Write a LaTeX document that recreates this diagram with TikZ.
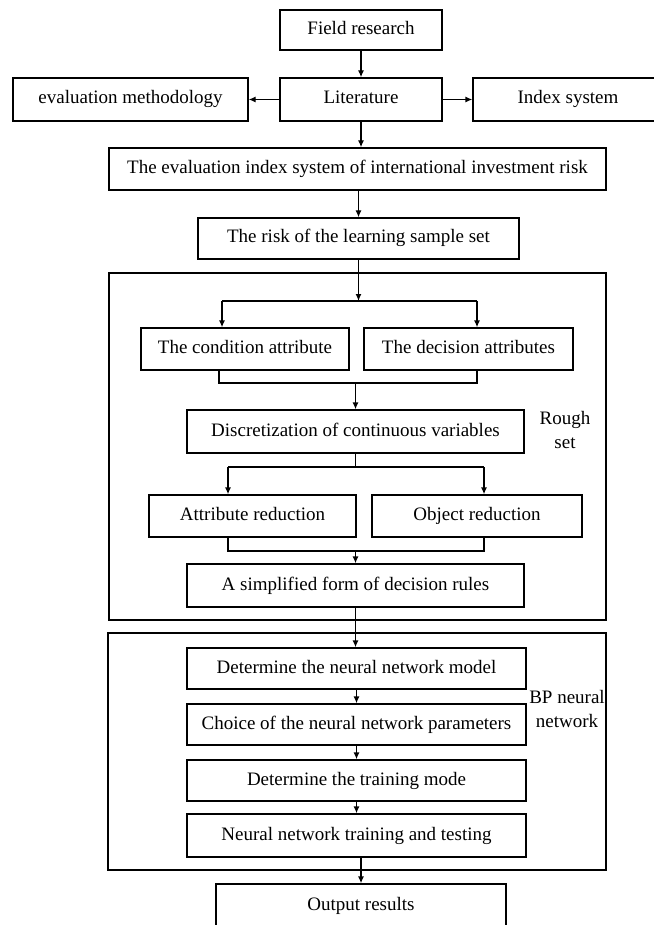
\documentclass[tikz,border=0pt]{standalone}
\usepackage{fontspec}
\setmainfont{Liberation Serif}
\usetikzlibrary{arrows.meta,calc}
\tikzset{
  every node/.style={font=\fontsize{19}{24}\selectfont},
  box/.style={draw, line width=1.3pt, inner sep=0pt, minimum height=42, align=center,
              text height=13pt, text depth=4pt},
  frm/.style={draw, line width=1.3pt, inner sep=0pt},
  lbl/.style={align=center, inner sep=0pt},
  ar/.style={-{Latex[length=7pt,width=6pt]}, line width=1.3pt},
  ln/.style={line width=1.3pt},
}

\begin{document}
\begin{tikzpicture}[x=1pt,y=-1pt]
\useasboundingbox (0,0) rectangle (653,925);

% ============ sources ========================================================
\node[box, minimum width=162, minimum height=40] (field) at (361,30) {Field research};
\node[box, minimum width=162, minimum height=43] (lit) at (361,99.5) {Literature};
\node[box, minimum width=235, minimum height=43] (meth) at (130.5,99.5) {evaluation methodology};
\node[box, minimum width=190, minimum height=43] (idx) at (568,99.5) {Index system};
\node[box, minimum width=497] (evidx) at (357.5,169) {The evaluation index system of international investment risk};
\node[box, minimum width=321, minimum height=41] (risk) at (358.5,238.5) {The risk of the learning sample set};

\draw[ar] (field.south) -- (lit.north);
\draw[ar] (lit.west) -- (meth.east);
\draw[ar] (lit.east) -- (idx.west);
\draw[ar] (lit.south) -- (lit.south |- evidx.north);
\draw[ar] (risk.north |- evidx.south) -- (risk.north);

% ============ rough set ======================================================
\node[frm, minimum width=497, minimum height=347] (rough) at (357.5,446.5) {};
\node[lbl] (roughlbl) at (565,430) {Rough\\set};
\node[box, minimum width=208] (cond) at (245,349) {The condition attribute};
\node[box, minimum width=209] (dec) at (468.5,349) {The decision attributes};
\node[box, minimum width=337, minimum height=43] (disc) at (355.5,431.5) {Discretization of continuous variables};
\node[box, minimum width=207] (attr) at (252.5,516) {Attribute reduction};
\node[box, minimum width=210] (obj) at (477,516) {Object reduction};
\node[box, minimum width=337, minimum height=43] (simp) at (355.5,585.5) {A simplified form of decision rules};

\coordinate (b1l) at (222,301);  \coordinate (b1r) at (477,301);
\coordinate (j1l) at (219,383);  \coordinate (j1r) at (477,383);
\coordinate (b2l) at (228,467);  \coordinate (b2r) at (484,467);
\coordinate (j2l) at (228,551);  \coordinate (j2r) at (484,551);

\draw[ar] (risk.south) -- (risk.south |- b1l);
\draw[ln] (b1l) -- (b1r);
\draw[ar] (b1l) -- (b1l |- cond.north);
\draw[ar] (b1r) -- (b1r |- dec.north);
\draw[ln] (j1l |- cond.south) -- (j1l) -- (j1r) -- (j1r |- dec.south);
\draw[ar] (disc.north |- j1l) -- (disc.north);
\draw[ln] (disc.south) -- (disc.south |- b2l);
\draw[ln] (b2l) -- (b2r);
\draw[ar] (b2l) -- (b2l |- attr.north);
\draw[ar] (b2r) -- (b2r |- obj.north);
\draw[ln] (j2l |- attr.south) -- (j2l) -- (j2r) -- (j2r |- obj.south);
\draw[ar] (simp.north |- j2l) -- (simp.north);

% ============ BP neural network ==============================================
\node[frm, minimum width=498, minimum height=237] (bp) at (357,751.5) {};
\node[lbl] (bplbl) at (567,708.5) {BP neural\\network};
\node[box, minimum width=339, minimum height=41] (detm) at (356.5,668.5) {Determine the neural network model};
\node[box, minimum width=339, minimum height=41] (choice) at (356.5,724.5) {Choice of the neural network parameters};
\node[box, minimum width=339, minimum height=41] (train) at (356.5,780.5) {Determine the training mode};
\node[box, minimum width=339, minimum height=43] (nnt) at (356.5,835.5) {Neural network training and testing};
\node[box, minimum width=290, minimum height=43] (out) at (361,905.5) {Output results};

\draw[ar] (simp.south) -- (simp.south |- detm.north);
\draw[ar] (detm.south) -- (choice.north);
\draw[ar] (choice.south) -- (train.north);
\draw[ar] (train.south) -- (nnt.north);
\draw[ar] (out.north |- nnt.south) -- (out.north);

\end{tikzpicture}
\end{document}
